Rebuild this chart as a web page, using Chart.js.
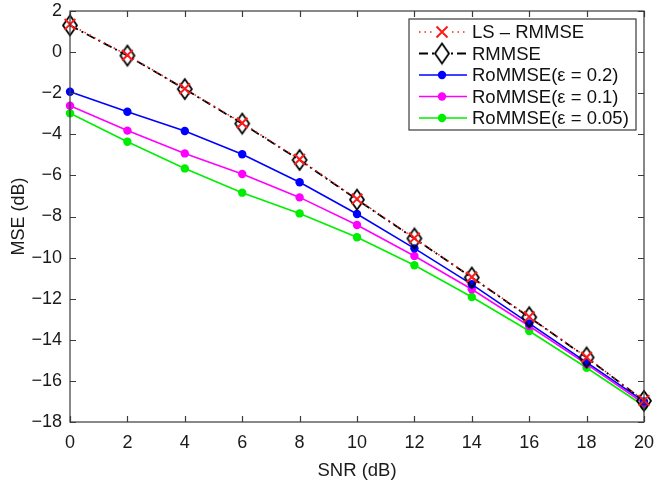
<!DOCTYPE html>
<html>
<head>
<meta charset="utf-8">
<script src="https://cdn.jsdelivr.net/npm/chart.js@4/dist/chart.umd.min.js"></script>
<style>
  html, body { margin: 0; padding: 0; background: #fff; }
  #wrap { width: 656px; height: 482px; }
</style>
</head>
<body>
<div id="wrap"><canvas id="mseChart" width="656" height="482"></canvas></div>
<script>
(() => {
  'use strict'

  // SNR (dB) on the x axis
  const snr = [0, 2, 4, 6, 8, 10, 12, 14, 16, 18, 20]

  // MSE (dB) per estimator
  const lsRmmse = [1.35, -0.15, -1.78, -3.45, -5.22, -7.15, -9.05, -10.95, -12.88, -14.85, -16.95]
  const rmmse = [1.3, -0.17, -1.8, -3.48, -5.25, -7.18, -9.07, -10.97, -12.9, -14.86, -16.97]
  const romm02 = [-1.93, -2.9, -3.84, -4.97, -6.33, -7.88, -9.55, -11.3, -13.2, -15.1, -17.0]
  const romm01 = [-2.61, -3.82, -4.93, -5.93, -7.07, -8.41, -9.92, -11.54, -13.33, -15.18, -17.1]
  const romm005 = [-2.98, -4.36, -5.66, -6.84, -7.85, -9.01, -10.37, -11.92, -13.57, -15.36, -17.22]

  const seriesNames = ['LS – RMMSE', 'RMMSE', 'RoMMSE(ε = 0.2)', 'RoMMSE(ε = 0.1)', 'RoMMSE(ε = 0.05)']

  const yTicks = [2, 0, -2, -4, -6, -8, -10, -12, -14, -16, -18]

  const FONT = '"Liberation Sans", Arial, Helvetica, sans-serif'
  const pts = (ys) => snr.map((x, i) => ({ x, y: ys[i] }))

  // hollow diamond marker, a bit taller than wide
  const diamond = document.createElement('canvas')
  diamond.width = 18
  diamond.height = 24
  {
    const d = diamond.getContext('2d')
    d.strokeStyle = '#000'
    d.lineWidth = 1.8
    d.beginPath()
    d.moveTo(9, 2)
    d.lineTo(16, 12)
    d.lineTo(9, 22)
    d.lineTo(2, 12)
    d.closePath()
    d.stroke()
  }

  const minus = (v) => (v < 0 ? '\u2212' + Math.abs(v) : String(v))

  // box around the plot with inward ticks on all four sides
  const boxPlugin = {
    id: 'box',
    afterDatasetsDraw(chart) {
      const { ctx, chartArea: a, scales: { x, y } } = chart
      const len = 6
      ctx.save()
      ctx.strokeStyle = '#3a3a3a'
      ctx.lineWidth = 1.2
      ctx.strokeRect(a.left, a.top, a.right - a.left, a.bottom - a.top)
      ctx.beginPath()
      x.ticks.forEach((t) => {
        const px = Math.round(x.getPixelForValue(t.value)) + 0.5
        ctx.moveTo(px, a.bottom); ctx.lineTo(px, a.bottom - len)
        ctx.moveTo(px, a.top); ctx.lineTo(px, a.top + len)
      })
      y.ticks.forEach((t) => {
        const py = Math.round(y.getPixelForValue(t.value)) + 0.5
        ctx.moveTo(a.left, py); ctx.lineTo(a.left + len, py)
        ctx.moveTo(a.right, py); ctx.lineTo(a.right - len, py)
      })
      ctx.stroke()
      ctx.restore()
    }
  }

  // legend box in the top right corner of the plot
  const legendPlugin = {
    id: 'innerLegend',
    afterDraw(chart) {
      const { ctx, chartArea: a } = chart
      const w = 227, h = 111
      const left = a.right - 8 - w, top = a.top + 8
      ctx.save()
      ctx.fillStyle = '#fff'
      ctx.fillRect(left, top, w, h)
      ctx.strokeStyle = '#3a3a3a'
      ctx.lineWidth = 1.2
      ctx.strokeRect(left, top, w, h)
      ctx.font = '18.5px ' + FONT
      ctx.textBaseline = 'middle'
      chart.data.datasets.forEach((ds, i) => {
        const cy = top + 13 + i * 21.5
        const x0 = left + 10, x1 = left + 58, mx = left + 33
        ctx.strokeStyle = ds.borderColor
        ctx.lineWidth = ds.borderWidth
        ctx.setLineDash(ds.borderDash || [])
        ctx.beginPath()
        ctx.moveTo(x0, cy); ctx.lineTo(x1, cy)
        ctx.stroke()
        ctx.setLineDash([])
        if (ds.pointStyle === 'crossRot') {
          ctx.fillStyle = '#fff'
          ctx.fillRect(mx - 9, cy - 6, 18, 12)
          ctx.strokeStyle = ds.pointBorderColor
          ctx.lineWidth = 2
          const r = 5.5
          ctx.beginPath()
          ctx.moveTo(mx - r, cy - r); ctx.lineTo(mx + r, cy + r)
          ctx.moveTo(mx + r, cy - r); ctx.lineTo(mx - r, cy + r)
          ctx.stroke()
        } else if (ds.pointStyle === diamond) {
          ctx.fillStyle = '#fff'
          ctx.fillRect(mx - 7, cy - 8, 14, 16)
          ctx.drawImage(diamond, mx - diamond.width / 2, cy - diamond.height / 2)
        } else {
          ctx.fillStyle = ds.pointBackgroundColor
          ctx.beginPath()
          ctx.arc(mx, cy, ds.pointRadius, 0, Math.PI * 2)
          ctx.fill()
        }
        ctx.fillStyle = '#111'
        ctx.fillText(seriesNames[i], left + 63, cy + 1)
      })
      ctx.restore()
    }
  }

  const solid = (label, ys, color) => ({
    label,
    data: pts(ys),
    borderColor: color,
    backgroundColor: color,
    borderWidth: 1.6,
    pointStyle: 'circle',
    pointRadius: 4.2,
    pointBackgroundColor: color,
    pointBorderColor: color,
    pointBorderWidth: 0,
    tension: 0,
    clip: false
  })

  const ctx = document.getElementById('mseChart')
  // eslint-disable-next-line no-unused-vars
  const mseChart = new Chart(ctx, {
    type: 'line',
    data: {
      datasets: [{
        label: seriesNames[0],
        data: pts(lsRmmse),
        borderColor: '#ff2020',
        borderWidth: 1.5,
        borderDash: [1.5, 4],
        pointStyle: 'crossRot',
        pointRadius: 7.5,
        pointBorderColor: '#ff1a1a',
        pointBackgroundColor: 'transparent',
        pointBorderWidth: 2,
        tension: 0,
        clip: false
      }, {
        label: seriesNames[1],
        data: pts(rmmse),
        borderColor: '#000',
        borderWidth: 1.8,
        borderDash: [9, 4, 2, 4],
        pointStyle: diamond,
        pointRadius: 9,
        tension: 0,
        clip: false
      },
      solid(seriesNames[2], romm02, '#0000ff'),
      solid(seriesNames[3], romm01, '#ff00ff'),
      solid(seriesNames[4], romm005, '#00ee00')]
    },
    options: {
      responsive: false,
      animation: false,
      events: [],
      layout: {
        padding: { top: 11, right: 12, left: 0, bottom: 0 }
      },
      scales: {
        x: {
          type: 'linear',
          position: 'bottom',
          min: 0,
          max: 20,
          afterFit: (s) => { s.height = 60; s.paddingLeft = 0; s.paddingRight = 0 },
          grid: { display: false, drawTicks: false },
          border: { display: false },
          ticks: {
            stepSize: 2,
            padding: 10,
            color: '#1a1a1a',
            font: { family: FONT, size: 18 },
            maxRotation: 0
          },
          title: {
            display: true,
            text: 'SNR (dB)',
            color: '#1a1a1a',
            font: { family: FONT, size: 18.5 },
            padding: { top: 0, bottom: 0 }
          }
        },
        y: {
          type: 'linear',
          min: -18,
          max: 2,
          afterFit: (s) => { s.width = 70; s.paddingTop = 0; s.paddingBottom = 0 },
          afterBuildTicks: (s) => { s.ticks = yTicks.map((v) => ({ value: v })) },
          grid: { display: false, drawTicks: false },
          border: { display: false },
          ticks: {
            padding: 8,
            color: '#1a1a1a',
            font: { family: FONT, size: 18 },
            callback: (v) => minus(v)
          },
          title: {
            display: true,
            text: 'MSE (dB)',
            color: '#1a1a1a',
            font: { family: FONT, size: 18 },
            padding: { top: 8, bottom: 0 }
          }
        }
      },
      plugins: {
        legend: { display: false },
        tooltip: { enabled: false }
      }
    },
    plugins: [boxPlugin, legendPlugin]
  })
})()
</script>
</body>
</html>
